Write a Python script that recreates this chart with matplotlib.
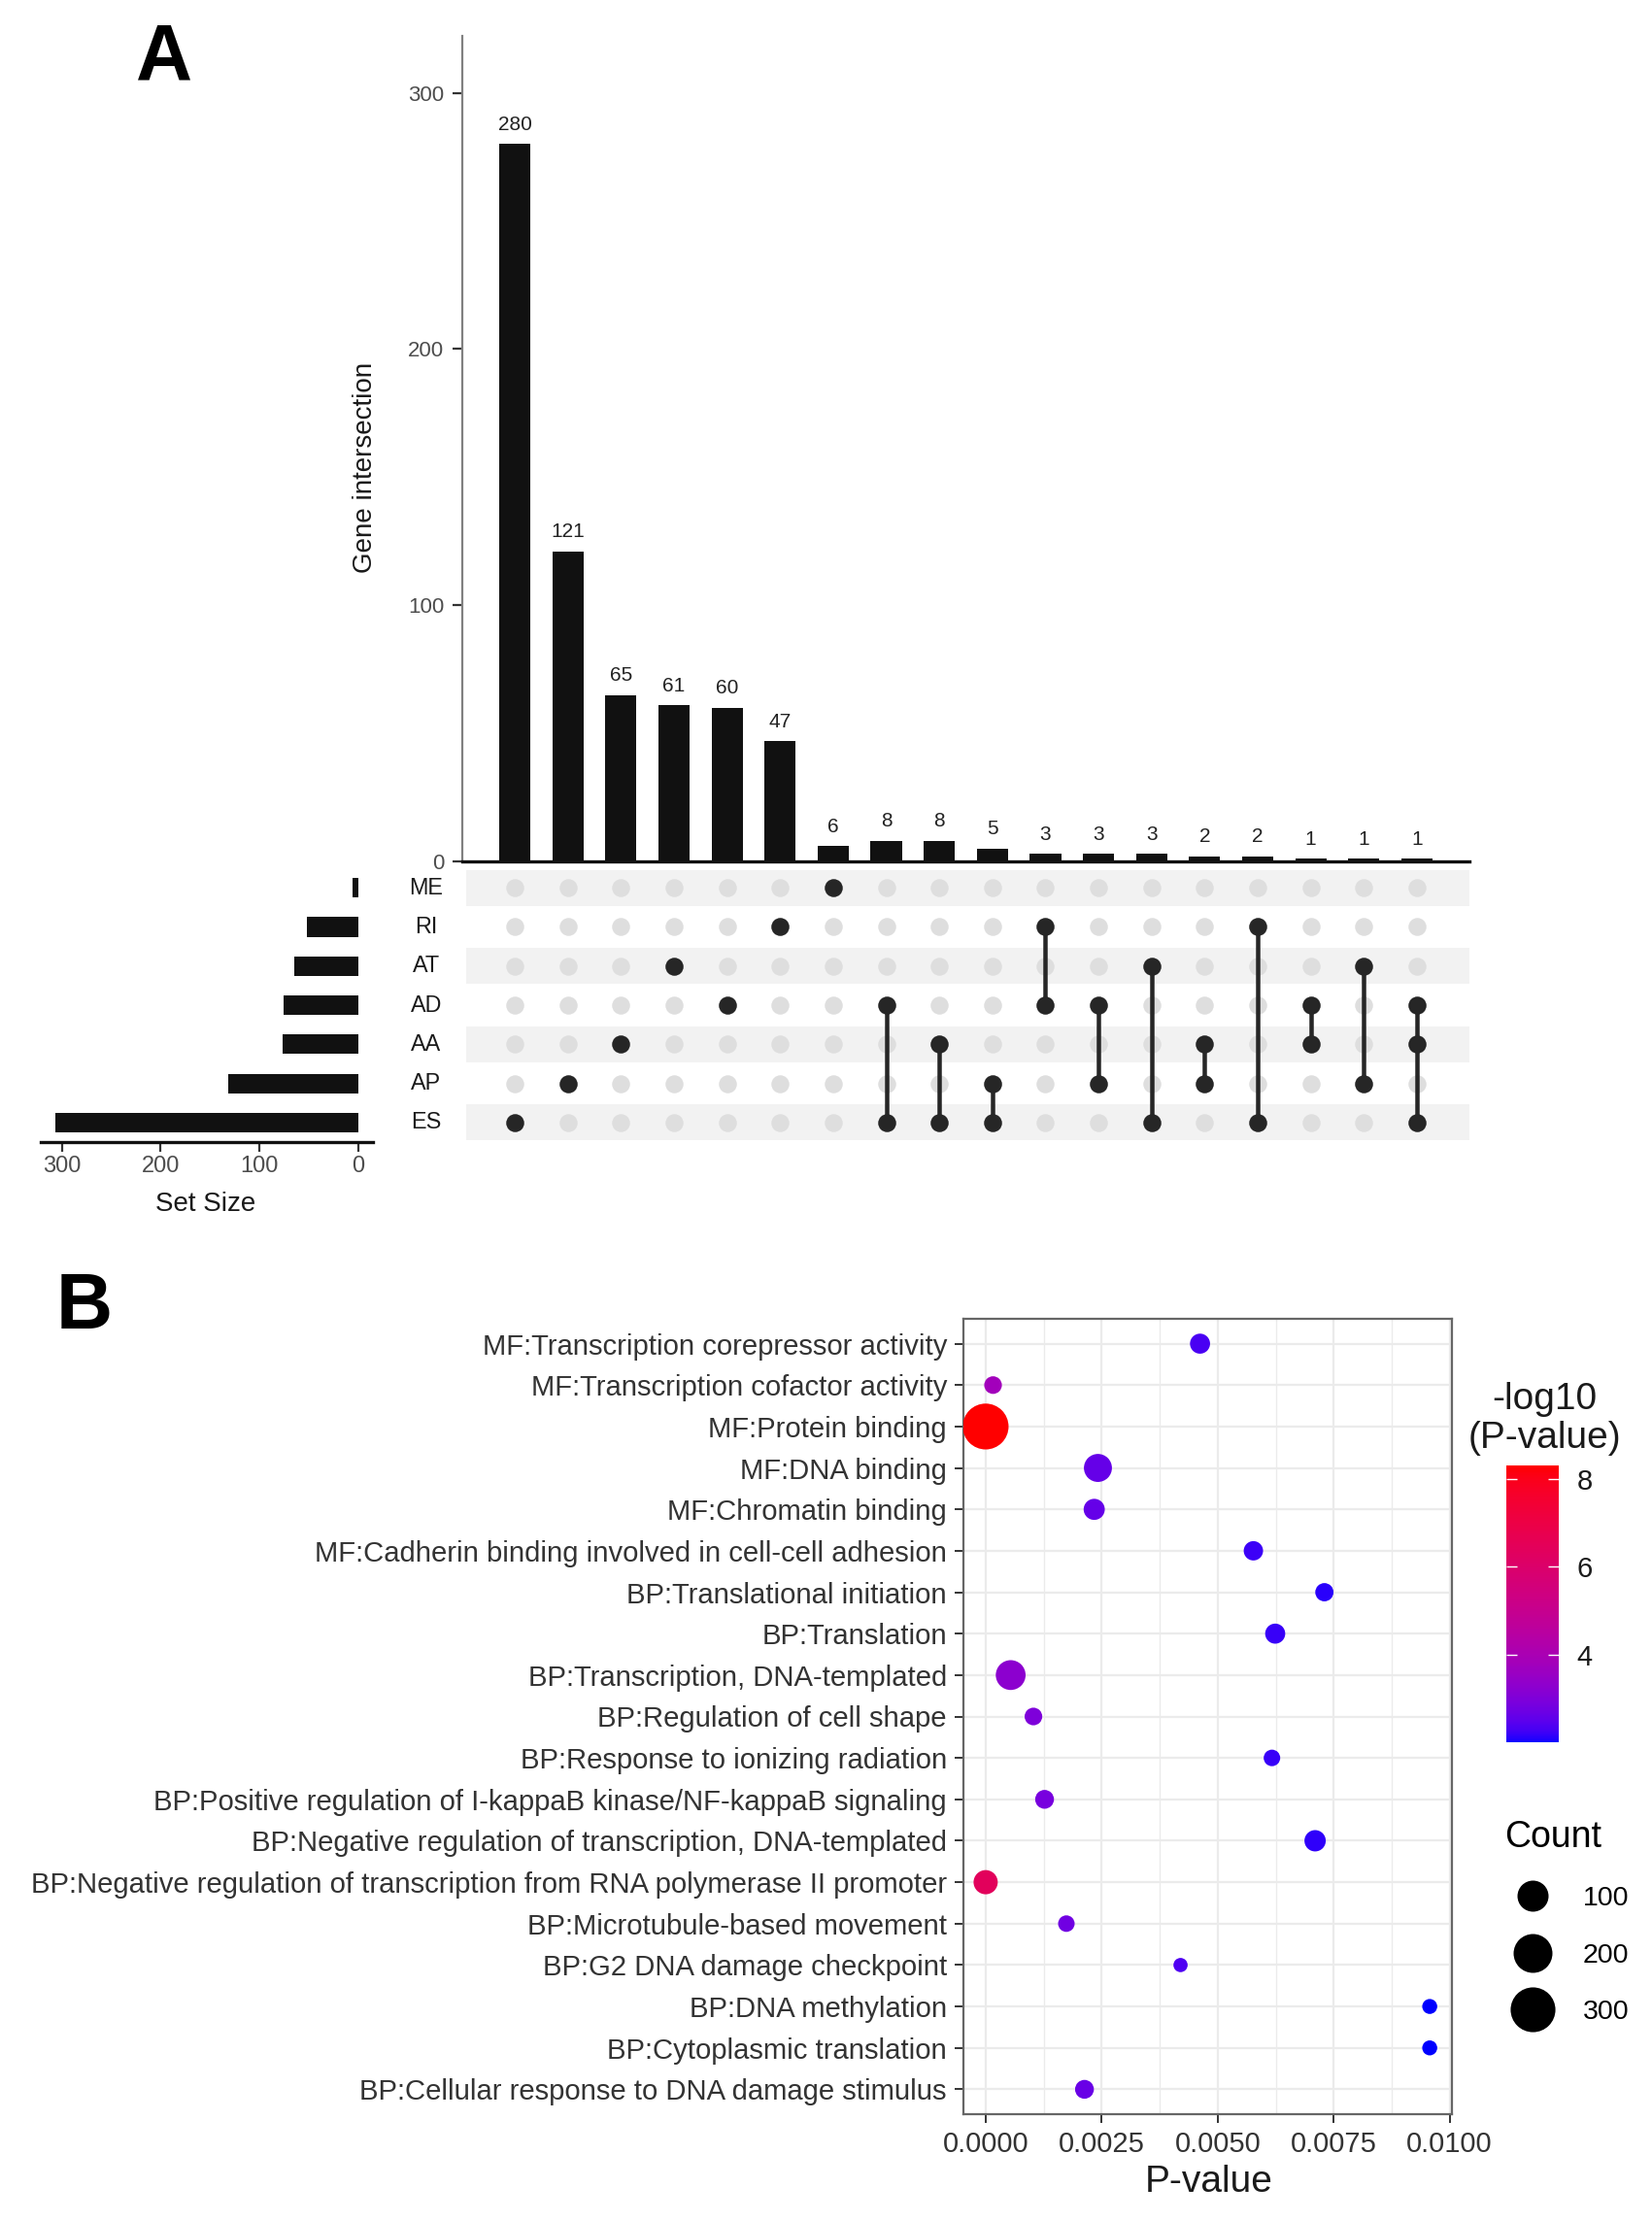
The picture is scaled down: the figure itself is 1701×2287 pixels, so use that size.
import numpy as np
import matplotlib
matplotlib.use("Agg")
import matplotlib.pyplot as plt
from matplotlib.colors import ListedColormap, Normalize
from matplotlib.cm import ScalarMappable
from matplotlib.lines import Line2D
from matplotlib.ticker import FixedLocator, FuncFormatter
import matplotlib.transforms as mtransforms

plt.rcParams['font.family'] = ['Liberation Sans', 'DejaVu Sans']

# ---------------- Panel A data (UpSet plot) ----------------
set_names = ["ME", "RI", "AT", "AD", "AA", "AP", "ES"]
set_sizes = [6, 52, 65, 76, 77, 132, 307]
intersection_sizes = [280, 121, 65, 61, 60, 47, 6, 8, 8, 5, 3, 3, 3, 2, 2, 1, 1, 1]
intersection_members = [
    ["ES"], ["AP"], ["AA"], ["AT"], ["AD"], ["RI"], ["ME"],
    ["AD", "ES"], ["AA", "ES"], ["AP", "ES"], ["RI", "AD"], ["AD", "AP"],
    ["AT", "ES"], ["AA", "AP"], ["RI", "ES"], ["AD", "AA"], ["AT", "AP"],
    ["AD", "AA", "ES"],
]
bar_yticks = [0, 100, 200, 300]
setsize_ticks = [300, 200, 100, 0]

# ---------------- Panel B data (GO bubble plot) ----------------
go_terms = [
    "MF:Transcription corepressor activity",
    "MF:Transcription cofactor activity",
    "MF:Protein binding",
    "MF:DNA binding",
    "MF:Chromatin binding",
    "MF:Cadherin binding involved in cell-cell adhesion",
    "BP:Translational initiation",
    "BP:Translation",
    "BP:Transcription, DNA-templated",
    "BP:Regulation of cell shape",
    "BP:Response to ionizing radiation",
    "BP:Positive regulation of I-kappaB kinase/NF-kappaB signaling",
    "BP:Negative regulation of transcription, DNA-templated",
    "BP:Negative regulation of transcription from RNA polymerase II promoter",
    "BP:Microtubule-based movement",
    "BP:G2 DNA damage checkpoint",
    "BP:DNA methylation",
    "BP:Cytoplasmic translation",
    "BP:Cellular response to DNA damage stimulus",
]
p_values = [0.00462, 0.00016, 5e-9, 0.00242, 0.00234, 0.00577, 0.00730, 0.00624,
            0.00054, 0.00103, 0.00617, 0.00127, 0.00710, 4e-7, 0.00174, 0.00420,
            0.00957, 0.00957, 0.00213]
gene_counts = [17, 8, 320, 70, 22, 14, 10, 17, 87, 8, 5, 12, 23, 40, 5, 1, 2, 2, 12]
p_ticks = [0.0, 0.0025, 0.005, 0.0075, 0.01]
cbar_ticks = [4, 6, 8]
count_breaks = [100, 200, 300]

# ---------------- figure helpers ----------------
W, H, DPI = 1701, 2287, 100
fig = plt.figure(figsize=(W / DPI, H / DPI), dpi=DPI)
fig.patch.set_facecolor("white")


def add_ax(x0, y0, x1, y1):
    return fig.add_axes([x0 / W, 1 - y1 / H, (x1 - x0) / W, (y1 - y0) / H])


def ftext(x, y, s, **kw):
    return fig.text(x / W, 1 - y / H, s, **kw)


def px2pt(px):
    return px * 72.0 / DPI


# ---------------- colormap: blue -> red interpolated in Lab ----------------
M = np.array([[0.4124564, 0.3575761, 0.1804375],
              [0.2126729, 0.7151522, 0.0721750],
              [0.0193339, 0.1191920, 0.9503041]])
WHITE = np.array([0.95047, 1.0, 1.08883])


def srgb_to_lab(rgb):
    rgb = np.asarray(rgb, float)
    lin = np.where(rgb <= 0.04045, rgb / 12.92, ((rgb + 0.055) / 1.055) ** 2.4)
    xyz = lin @ M.T / WHITE
    d = 6 / 29
    f = np.where(xyz > d ** 3, np.cbrt(xyz), xyz / (3 * d * d) + 4 / 29)
    return np.stack([116 * f[..., 1] - 16, 500 * (f[..., 0] - f[..., 1]),
                     200 * (f[..., 1] - f[..., 2])], axis=-1)


def lab_to_srgb(lab):
    lab = np.asarray(lab, float)
    fy = (lab[..., 0] + 16) / 116
    fx = fy + lab[..., 1] / 500
    fz = fy - lab[..., 2] / 200
    d = 6 / 29
    fi = lambda t: np.where(t > d, t ** 3, 3 * d * d * (t - 4 / 29))
    xyz = np.stack([fi(fx), fi(fy), fi(fz)], axis=-1) * WHITE
    lin = np.clip(xyz @ np.linalg.inv(M).T, 0, None)
    rgb = np.where(lin <= 0.0031308, 12.92 * lin, 1.055 * lin ** (1 / 2.4) - 0.055)
    return np.clip(rgb, 0, 1)


t = np.linspace(0, 1, 256)[:, None]
lab_lo, lab_hi = srgb_to_lab([0, 0, 1]), srgb_to_lab([1, 0, 0])
cmap = ListedColormap(lab_to_srgb(lab_lo * (1 - t) + lab_hi * t))

# ======================= PANEL A =======================
n_int = len(intersection_sizes)
n_set = len(set_names)
cols = np.arange(n_int)
rows = np.arange(n_set)
XL = (-0.99, 17.99)
DARK = "#111111"
ROW_TOP, ROW_BOT = 894, 1176

# intersection bar chart
ax_bar = add_ax(476, 36.5, 1513, 887)
ax_bar.bar(cols, intersection_sizes, width=0.59, color=DARK, zorder=2)
for c, v in zip(cols, intersection_sizes):
    ax_bar.annotate(str(v), (c, v), xytext=(0, 7.5), textcoords="offset points",
                    ha="center", va="bottom", fontsize=15, color="#222222")
ax_bar.set_xlim(*XL)
ax_bar.set_ylim(0, 322.4)
ax_bar.set_yticks(bar_yticks)
ax_bar.set_xticks([])
for s in ["top", "right"]:
    ax_bar.spines[s].set_visible(False)
ax_bar.spines["left"].set_color("#808080")
ax_bar.spines["left"].set_linewidth(1.6)
ax_bar.spines["bottom"].set_color("#111111")
ax_bar.spines["bottom"].set_linewidth(2.4)
ax_bar.tick_params(axis="y", length=7, width=1.6, color="#333333",
                   labelsize=16, labelcolor="#4D4D4D", pad=6.5)
ftext(376, 481, "Gene intersection", rotation=90, ha="center", va="center",
      fontsize=20, color="#1a1a1a")

# matrix
ax_m = add_ax(476, ROW_TOP, 1513, ROW_BOT)
ax_m.set_xlim(*XL)
ax_m.set_ylim(n_set - 0.5, -0.5)
for r in rows:
    if r % 2 == 0:
        ax_m.axhspan(r - 0.46, r + 0.46, xmin=0.004, xmax=1, color="#F2F2F2",
                     lw=0, zorder=0)
gx, gy = np.meshgrid(cols, rows)
ax_m.scatter(gx.ravel(), gy.ravel(), s=px2pt(18.5) ** 2, color="#DEDEDE",
             lw=0, zorder=2)
for c, members in zip(cols, intersection_members):
    rr = [set_names.index(m) for m in members]
    if len(rr) > 1:
        ax_m.plot([c, c], [min(rr), max(rr)], color="#262626", lw=px2pt(4.5),
                  zorder=3, solid_capstyle="butt")
    ax_m.scatter([c] * len(rr), rr, s=px2pt(18.5) ** 2, color="#262626", lw=0,
                 zorder=4)
ax_m.axis("off")

# set size bars
ax_s = add_ax(42.4, ROW_TOP, 384, ROW_BOT)
ax_s.barh(rows, set_sizes, height=0.5, color=DARK)
ax_s.set_ylim(n_set - 0.5, -0.5)
ax_s.set_xlim(321, -14.8)
ax_s.set_xticks(setsize_ticks)
ax_s.set_yticks([])
for s in ["top", "right", "left"]:
    ax_s.spines[s].set_visible(False)
ax_s.spines["bottom"].set_color("#111111")
ax_s.spines["bottom"].set_linewidth(2.4)
ax_s.tick_params(axis="x", length=7, width=1.6, color="#333333",
                 labelsize=17, labelcolor="#4D4D4D", pad=3)
ftext(212, 1240, "Set Size", ha="center", va="center", fontsize=20,
      color="#1a1a1a")

# set names
trans = mtransforms.blended_transform_factory(fig.transFigure, ax_m.transData)
for r, name in zip(rows, set_names):
    ax_m.text(439 / W, r, name, transform=trans, ha="center", va="center",
              fontsize=16.8, color="#1a1a1a", clip_on=False)

ftext(169, 61, "A", ha="center", va="center", fontsize=58, fontweight="bold")

# ======================= PANEL B =======================
neglog = -np.log10(np.array(p_values))
norm = Normalize(vmin=neglog.min(), vmax=neglog.max())
counts = np.array(gene_counts, float)


def count_to_diam_pt(cnt):
    return px2pt(12.7 + 1.93 * np.sqrt(cnt))


ax_b = add_ax(992, 1358, 1495, 2177)
yrow = np.arange(len(go_terms))
ax_b.scatter(p_values, yrow, s=count_to_diam_pt(counts) ** 2,
             c=cmap(norm(neglog)), lw=0, zorder=3)
pmin, pmax = min(p_values), max(p_values)
pad = 0.05 * (pmax - pmin)
ax_b.set_xlim(pmin - pad, pmax + pad)
ax_b.set_ylim(len(go_terms) - 1 + 0.6, -0.6)
ax_b.xaxis.set_major_locator(FixedLocator(p_ticks))
ax_b.xaxis.set_major_formatter(FuncFormatter(lambda v, _: f"{v:.4f}"))
ax_b.xaxis.set_minor_locator(FixedLocator(
    [(a + b) / 2 for a, b in zip(p_ticks[:-1], p_ticks[1:])]))
ax_b.set_yticks(yrow)
ax_b.set_yticklabels(go_terms)
ax_b.grid(True, which="major", color="#EBEBEB", lw=1.6, zorder=0)
ax_b.grid(True, which="minor", axis="x", color="#EBEBEB", lw=1.0, zorder=0)
ax_b.set_axisbelow(True)
for s in ax_b.spines.values():
    s.set_color("#666666")
    s.set_linewidth(1.6)
ax_b.tick_params(axis="both", which="major", length=6.5, width=1.4,
                 color="#333333", labelcolor="#333333")
ax_b.tick_params(axis="y", labelsize=21.1, pad=5.8)
ax_b.tick_params(axis="x", labelsize=21, pad=6)
ax_b.tick_params(axis="x", which="minor", length=0)
ftext(1245, 2247, "P-value", ha="center", va="center", fontsize=28,
      color="#1a1a1a")

# colorbar
cax = add_ax(1551, 1509, 1605, 1794)
cb = fig.colorbar(ScalarMappable(norm=norm, cmap=cmap), cax=cax)
cb.outline.set_visible(False)
cb.set_ticks(cbar_ticks)
cax.tick_params(axis="y", which="both", left=True, right=True, direction="in",
                length=8, width=1.0, color="white", labelsize=21,
                labelcolor="#1a1a1a", pad=13.5)
cax.minorticks_off()
ftext(1590, 1461, "-log10\n(P-value)", ha="center", va="center", fontsize=28,
      color="#1a1a1a", linespacing=1.15)

# size legend
handles = [Line2D([], [], marker="o", ls="none", color="black", mec="none",
                  markersize=count_to_diam_pt(c)) for c in count_breaks]
fig.legend(handles, [str(c) for c in count_breaks], title="Count",
           loc="upper left", bbox_to_anchor=(1549 / W, 1 - 1874 / H),
           frameon=False, fontsize=20.5, title_fontsize=27, handlelength=2.05,
           handletextpad=0.78, labelspacing=1.14, borderpad=0,
           borderaxespad=0, alignment="left")

ftext(87, 1347, "B", ha="center", va="center", fontsize=58, fontweight="bold")

fig.savefig("out.png", dpi=DPI)
